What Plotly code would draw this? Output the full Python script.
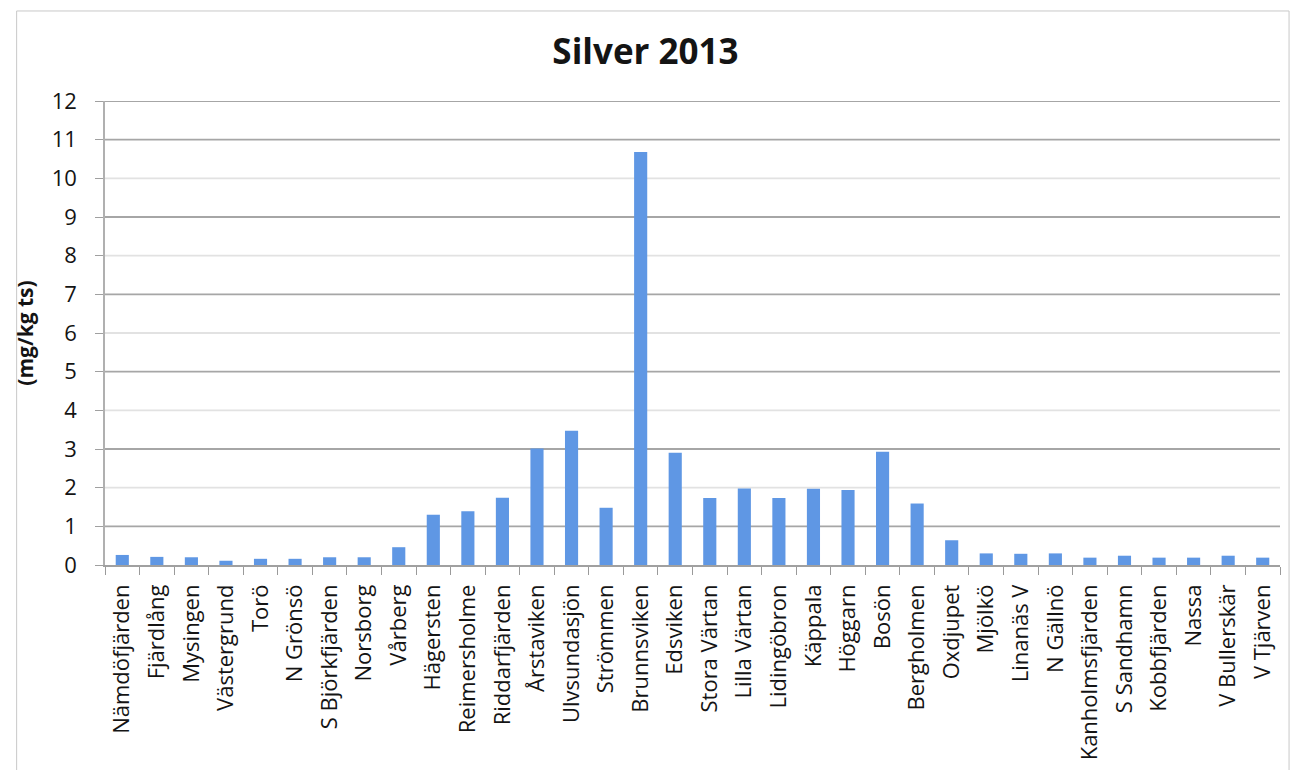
import plotly.graph_objects as go

# Sampling stations, in plotted order
stations = [
    "Nämdöfjärden", "Fjärdlång", "Mysingen", "Västergrund", "Torö", "N Grönsö",
    "S Björkfjärden", "Norsborg", "Vårberg", "Hägersten", "Reimersholme",
    "Riddarfjärden", "Årstaviken", "Ulvsundasjön", "Strömmen", "Brunnsviken",
    "Edsviken", "Stora Värtan", "Lilla Värtan", "Lidingöbron", "Käppala",
    "Höggarn", "Bosön", "Bergholmen", "Oxdjupet", "Mjölkö", "Linanäs V",
    "N Gällnö", "Kanholmsfjärden", "S Sandhamn", "Kobbfjärden", "Nassa",
    "V Bullerskär", "V Tjärven",
]

# Silver concentration in sediment (mg/kg ts)
silver = [
    0.26, 0.21, 0.20, 0.11, 0.16, 0.16,
    0.20, 0.20, 0.46, 1.30, 1.39,
    1.74, 3.01, 3.47, 1.48, 10.68,
    2.90, 1.73, 1.98, 1.73, 1.97,
    1.94, 2.93, 1.59, 0.64, 0.30, 0.29,
    0.30, 0.19, 0.24, 0.19, 0.19,
    0.24, 0.19,
]

y_ticks = list(range(0, 13))
dark_grid = [1, 3, 5, 7, 9, 11, 12]

FONT = "Open Sans, Noto Sans, sans-serif"
TEXT = "#141414"

fig = go.Figure(
    go.Bar(
        x=stations,
        y=silver,
        marker=dict(color="#5f97e4", line=dict(width=0)),
        width=0.38,
        hoverinfo="x+y",
    )
)

# gridlines: alternating light and heavier rules, drawn under the bars
shapes = [
    dict(type="line", xref="paper", x0=0, x1=1, yref="y", y0=v, y1=v,
         line=dict(color="#a6a6a6" if v in dark_grid else "#e2e2e2", width=1.8),
         layer="below")
    for v in y_ticks[1:]
]
# outer chart frame
shapes.append(dict(type="rect", xref="paper", yref="paper",
                   x0=-0.0752, x1=1.0077, y0=-0.45, y1=1.194,
                   line=dict(color="#c8c8c8", width=1), layer="below"))

fig.update_layout(
    width=1291,
    height=770,
    margin=dict(l=105, r=11, t=101, b=205),
    paper_bgcolor="white",
    plot_bgcolor="white",
    showlegend=False,
    font=dict(family=FONT, color=TEXT, size=16),
    title=dict(
        text="<b>Silver 2013</b>",
        x=0.5, xref="container", xanchor="center",
        y=1 - 52 / 770, yref="container", yanchor="middle",
        font=dict(family=FONT, size=35, color=TEXT),
    ),
    shapes=shapes,
)

fig.update_xaxes(
    type="category",
    tickangle=-90,
    tickson="boundaries",
    ticks="outside",
    ticklen=8,
    tickcolor="#9a9a9a",
    showline=True,
    linecolor="#a0a0a0",
    linewidth=1.5,
    showgrid=False,
    ticklabelstandoff=9,
    tickfont=dict(family=FONT, size=22, color=TEXT),
)

fig.update_yaxes(
    range=[0, 12],
    tickvals=y_ticks,
    ticks="outside",
    ticklen=8,
    tickcolor="#a0a0a0",
    showline=True,
    linecolor="#b0b0b0",
    linewidth=1.5,
    showgrid=False,
    zeroline=False,
    ticklabelstandoff=14,
    tickfont=dict(family=FONT, size=22, color=TEXT),
    title=dict(text="<b>(mg/kg ts)</b>", font=dict(family=FONT, size=21, color=TEXT),
               standoff=12),
)

fig.write_html("out.html")
